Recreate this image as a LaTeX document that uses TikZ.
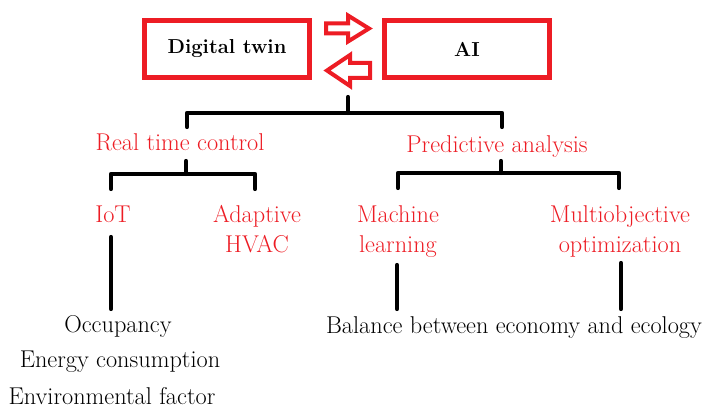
\documentclass[tikz,border=0pt]{standalone}
\definecolor{twinred}{RGB}{237,28,36}
\tikzset{
  box/.style={draw=twinred, line width=4.5, minimum width=165, minimum height=57,
    font=\bfseries\fontsize{20.2}{24}\selectfont},
  topic/.style={text=twinred, align=center, anchor=base, inner sep=0,
    font=\fontsize{24.3}{30}\selectfont},
  leaf/.style={align=center, anchor=base, inner sep=0,
    font=\fontsize{24.3}{30}\selectfont},
  branch/.style={line width=4.2, line cap=round, line join=round},
  blockarrow/.style={draw=twinred, line width=4, fill=white, line join=miter}
}
\begin{document}
\begin{tikzpicture}[x=1pt, y=-1pt]
\useasboundingbox (0,0) rectangle (705,412);

% top boxes
\node[box] (dt) at (227,49) {Digital twin};
\node[box] (ai) at (467,49) {AI};

% exchange arrows
\draw[blockarrow] (326,23.5) -- (348,23.5) -- (348,15.5) -- (369,28.5)
  -- (348,41.5) -- (348,33.5) -- (326,33.5) -- cycle;
\draw[blockarrow] (370,63) -- (350,63) -- (350,55) -- (327,70.5)
  -- (350,86) -- (350,78) -- (370,78) -- cycle;

% labels (two-line ones sit on their last baseline)
\node[topic] (rtc) at (180,150) {Real time control};
\node[topic] (pa) at (497,152) {Predictive analysis};
\node[topic] (iot) at (113,222) {IoT};
\node[topic] (hvac) at (257,252) {Adaptive\\HVAC};
\node[topic] (ml) at (398,252) {Machine\\learning};
\node[topic] (mo) at (620,252) {Multiobjective\\optimization};

\node[leaf] (occ) at (118,332) {Occupancy};
\node[leaf] (energy) at (120,367) {Energy consumption};
\node[leaf] (env) at (112,404) {Environmental factor};
\node[leaf] (bal) at (514,333) {Balance between economy and ecology};

% tree
\coordinate (hub) at (348,97);
\coordinate (rtcIn) at (187,127);
\coordinate (paIn) at (502,127);
\draw[branch] (hub) -- ++(0,16) coordinate (fork);
\draw[branch] (rtcIn) |- (fork) -| (paIn);

\coordinate (rtcOut) at (186,161);
\coordinate (iotIn) at (111,189);
\coordinate (hvacIn) at (255,189);
\draw[branch] (rtcOut) -- ++(0,13) coordinate (rtcFork);
\draw[branch] (iotIn) |- (rtcFork) -| (hvacIn);

\coordinate (paOut) at (501,161);
\coordinate (mlIn) at (398,188);
\coordinate (moIn) at (619,188);
\draw[branch] (paOut) -- ++(0,12) coordinate (paFork);
\draw[branch] (mlIn) |- (paFork) -| (moIn);

\coordinate (iotOut) at (111,237);
\coordinate (occIn) at (111,309);
\coordinate (mlOut) at (397,265);
\coordinate (moOut) at (621,263);
\draw[branch] (iotOut) -- (occIn);
\draw[branch] (mlOut) -- (mlOut |- occIn);
\draw[branch] (moOut) -- (moOut |- occIn);
\end{tikzpicture}
\end{document}
